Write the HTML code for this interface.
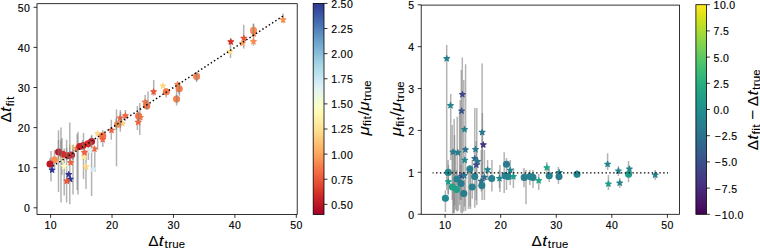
<!DOCTYPE html>
<html><head><meta charset="utf-8"><style>
html,body{margin:0;padding:0;background:#fff;width:760px;height:248px;overflow:hidden;}
body{position:relative;font-family:"Liberation Sans", sans-serif;}
</style></head><body>
<svg width="760" height="248" viewBox="0 0 760 248" style="position:absolute;left:0;top:0">
<defs>
<linearGradient id="gL" x1="0" y1="1" x2="0" y2="0">
<stop offset="0.0000" stop-color="#a50026"/>
<stop offset="0.0323" stop-color="#b50f26"/>
<stop offset="0.0645" stop-color="#c41e27"/>
<stop offset="0.0968" stop-color="#d42d27"/>
<stop offset="0.1290" stop-color="#e0422f"/>
<stop offset="0.1613" stop-color="#e95538"/>
<stop offset="0.1935" stop-color="#f26841"/>
<stop offset="0.2258" stop-color="#f67c4a"/>
<stop offset="0.2581" stop-color="#f99355"/>
<stop offset="0.2903" stop-color="#fca85e"/>
<stop offset="0.3226" stop-color="#fdb96b"/>
<stop offset="0.3548" stop-color="#fec87a"/>
<stop offset="0.3871" stop-color="#feda8a"/>
<stop offset="0.4194" stop-color="#fee699"/>
<stop offset="0.4516" stop-color="#fff0a8"/>
<stop offset="0.4839" stop-color="#fffab7"/>
<stop offset="0.5161" stop-color="#fafdc9"/>
<stop offset="0.5484" stop-color="#f0f9db"/>
<stop offset="0.5806" stop-color="#e6f5ed"/>
<stop offset="0.6129" stop-color="#daf0f6"/>
<stop offset="0.6452" stop-color="#c7e7f1"/>
<stop offset="0.6774" stop-color="#b6dfec"/>
<stop offset="0.7097" stop-color="#a6d5e7"/>
<stop offset="0.7419" stop-color="#94c7df"/>
<stop offset="0.7742" stop-color="#81b7d7"/>
<stop offset="0.8065" stop-color="#70a9cf"/>
<stop offset="0.8387" stop-color="#6297c6"/>
<stop offset="0.8710" stop-color="#5385bd"/>
<stop offset="0.9032" stop-color="#4471b2"/>
<stop offset="0.9355" stop-color="#3e5ea8"/>
<stop offset="0.9677" stop-color="#374a9f"/>
<stop offset="1.0000" stop-color="#313695"/>
</linearGradient>
<linearGradient id="gR" x1="0" y1="1" x2="0" y2="0">
<stop offset="0.0000" stop-color="#440154"/>
<stop offset="0.0323" stop-color="#470d60"/>
<stop offset="0.0645" stop-color="#48186a"/>
<stop offset="0.0968" stop-color="#482374"/>
<stop offset="0.1290" stop-color="#472e7c"/>
<stop offset="0.1613" stop-color="#453882"/>
<stop offset="0.1935" stop-color="#424186"/>
<stop offset="0.2258" stop-color="#3e4a89"/>
<stop offset="0.2581" stop-color="#3a548c"/>
<stop offset="0.2903" stop-color="#365d8d"/>
<stop offset="0.3226" stop-color="#32658e"/>
<stop offset="0.3548" stop-color="#2e6d8e"/>
<stop offset="0.3871" stop-color="#2b758e"/>
<stop offset="0.4194" stop-color="#287d8e"/>
<stop offset="0.4516" stop-color="#25848e"/>
<stop offset="0.4839" stop-color="#228c8d"/>
<stop offset="0.5161" stop-color="#1f948c"/>
<stop offset="0.5484" stop-color="#1e9c89"/>
<stop offset="0.5806" stop-color="#20a386"/>
<stop offset="0.6129" stop-color="#25ab82"/>
<stop offset="0.6452" stop-color="#2eb37c"/>
<stop offset="0.6774" stop-color="#3aba76"/>
<stop offset="0.7097" stop-color="#48c16e"/>
<stop offset="0.7419" stop-color="#58c765"/>
<stop offset="0.7742" stop-color="#6ccd5a"/>
<stop offset="0.8065" stop-color="#7fd34e"/>
<stop offset="0.8387" stop-color="#93d741"/>
<stop offset="0.8710" stop-color="#a8db34"/>
<stop offset="0.9032" stop-color="#c0df25"/>
<stop offset="0.9355" stop-color="#d5e21a"/>
<stop offset="0.9677" stop-color="#eae51a"/>
<stop offset="1.0000" stop-color="#fde725"/>
</linearGradient>
<clipPath id="cL"><rect x="37.00" y="3.70" width="260.20" height="210.70"/></clipPath>
<clipPath id="cR"><rect x="421.20" y="5.10" width="258.40" height="209.20"/></clipPath>
</defs>
<rect width="760" height="248" fill="#fff"/>
<g clip-path="url(#cL)">
<g stroke="#808080" stroke-opacity="0.6" stroke-width="1.5">
<line x1="51.00" y1="151.00" x2="51.00" y2="181.60"/>
<line x1="58.50" y1="130.20" x2="58.50" y2="192.00"/>
<line x1="61.00" y1="127.50" x2="61.00" y2="202.60"/>
<line x1="64.20" y1="148.50" x2="64.20" y2="195.40"/>
<line x1="66.60" y1="139.70" x2="66.60" y2="202.60"/>
<line x1="69.80" y1="122.60" x2="69.80" y2="204.20"/>
<line x1="73.00" y1="144.50" x2="73.00" y2="194.50"/>
<line x1="78.00" y1="131.80" x2="78.00" y2="194.50"/>
<line x1="83.50" y1="133.00" x2="83.50" y2="179.00"/>
<line x1="86.00" y1="150.00" x2="86.00" y2="189.00"/>
<line x1="91.60" y1="134.70" x2="91.60" y2="196.00"/>
<line x1="94.80" y1="150.00" x2="94.80" y2="172.00"/>
<line x1="97.60" y1="138.00" x2="97.60" y2="150.00"/>
<line x1="102.80" y1="130.00" x2="102.80" y2="147.00"/>
<line x1="111.30" y1="119.70" x2="111.30" y2="139.80"/>
<line x1="116.50" y1="109.40" x2="116.50" y2="166.30"/>
<line x1="120.30" y1="110.00" x2="120.30" y2="131.80"/>
<line x1="125.40" y1="110.00" x2="125.40" y2="121.00"/>
<line x1="139.80" y1="103.00" x2="139.80" y2="135.00"/>
<line x1="137.40" y1="106.00" x2="137.40" y2="130.00"/>
<line x1="148.00" y1="91.60" x2="148.00" y2="109.40"/>
<line x1="153.70" y1="79.90" x2="153.70" y2="95.80"/>
<line x1="166.10" y1="88.50" x2="166.10" y2="97.40"/>
<line x1="176.60" y1="86.00" x2="176.60" y2="105.50"/>
<line x1="179.40" y1="82.00" x2="179.40" y2="95.80"/>
<line x1="196.60" y1="72.00" x2="196.60" y2="82.00"/>
<line x1="230.50" y1="38.50" x2="230.50" y2="58.00"/>
<line x1="243.70" y1="24.80" x2="243.70" y2="48.50"/>
<line x1="253.50" y1="23.50" x2="253.50" y2="45.80"/>
<line x1="283.10" y1="13.50" x2="283.10" y2="23.00"/>
<line x1="50.00" y1="158.00" x2="50.00" y2="170.00"/>
<line x1="54.50" y1="150.00" x2="54.50" y2="168.00"/>
<line x1="88.40" y1="140.00" x2="88.40" y2="160.00"/>
<line x1="145.20" y1="95.00" x2="145.20" y2="108.00"/>
<line x1="62.00" y1="138.00" x2="62.00" y2="175.00"/>
<line x1="77.20" y1="134.00" x2="77.20" y2="190.00"/>
</g>
<path d="M283.10,16.80 L282.43,18.87 L280.25,18.87 L282.01,20.15 L281.34,22.23 L283.10,20.95 L284.86,22.23 L284.19,20.15 L285.95,18.87 L283.77,18.87 Z" fill="#f99153" stroke="#f99153" stroke-width="1.1" stroke-linejoin="round"/>
<circle cx="253.50" cy="30.20" r="3" fill="#f99153" stroke="#f99153" stroke-width="1.1"/>
<path d="M253.50,38.50 L252.83,40.57 L250.65,40.57 L252.41,41.85 L251.74,43.93 L253.50,42.65 L255.26,43.93 L254.59,41.85 L256.35,40.57 L254.17,40.57 Z" fill="#f88c51" stroke="#f88c51" stroke-width="1.1" stroke-linejoin="round"/>
<path d="M253.80,30.80 L253.13,32.87 L250.95,32.87 L252.71,34.15 L252.04,36.23 L253.80,34.95 L255.56,36.23 L254.89,34.15 L256.65,32.87 L254.47,32.87 Z" fill="#f7814c" stroke="#f7814c" stroke-width="1.1" stroke-linejoin="round"/>
<path d="M243.80,35.30 L243.13,37.37 L240.95,37.37 L242.71,38.65 L242.04,40.73 L243.80,39.45 L245.56,40.73 L244.89,38.65 L246.65,37.37 L244.47,37.37 Z" fill="#e65036" stroke="#e65036" stroke-width="1.1" stroke-linejoin="round"/>
<path d="M242.50,40.20 L241.83,42.27 L239.65,42.27 L241.41,43.55 L240.74,45.63 L242.50,44.35 L244.26,45.63 L243.59,43.55 L245.35,42.27 L243.17,42.27 Z" fill="#fba05b" stroke="#fba05b" stroke-width="1.1" stroke-linejoin="round"/>
<path d="M230.80,38.80 L230.13,40.87 L227.95,40.87 L229.71,42.15 L229.04,44.23 L230.80,42.95 L232.56,44.23 L231.89,42.15 L233.65,40.87 L231.47,40.87 Z" fill="#d83128" stroke="#d83128" stroke-width="1.1" stroke-linejoin="round"/>
<path d="M230.00,48.60 L229.33,50.67 L227.15,50.67 L228.91,51.95 L228.24,54.03 L230.00,52.75 L231.76,54.03 L231.09,51.95 L232.85,50.67 L230.67,50.67 Z" fill="#fee192" stroke="#fee192" stroke-width="1.1" stroke-linejoin="round"/>
<circle cx="196.60" cy="76.40" r="3" fill="#f7814c" stroke="#f7814c" stroke-width="1.1"/>
<path d="M177.60,81.50 L176.93,83.57 L174.75,83.57 L176.51,84.85 L175.84,86.93 L177.60,85.65 L179.36,86.93 L178.69,84.85 L180.45,83.57 L178.27,83.57 Z" fill="#f7814c" stroke="#f7814c" stroke-width="1.1" stroke-linejoin="round"/>
<circle cx="179.20" cy="88.80" r="3" fill="#f67c4a" stroke="#f67c4a" stroke-width="1.1"/>
<circle cx="176.60" cy="99.00" r="3" fill="#f7814c" stroke="#f7814c" stroke-width="1.1"/>
<path d="M162.90,83.00 L162.23,85.07 L160.05,85.07 L161.81,86.35 L161.14,88.43 L162.90,87.15 L164.66,88.43 L163.99,86.35 L165.75,85.07 L163.57,85.07 Z" fill="#fed687" stroke="#fed687" stroke-width="1.1" stroke-linejoin="round"/>
<circle cx="166.30" cy="91.80" r="3" fill="#f67a49" stroke="#f67a49" stroke-width="1.1"/>
<path d="M153.60,88.80 L152.93,90.87 L150.75,90.87 L152.51,92.15 L151.84,94.23 L153.60,92.95 L155.36,94.23 L154.69,92.15 L156.45,90.87 L154.27,90.87 Z" fill="#ea5739" stroke="#ea5739" stroke-width="1.1" stroke-linejoin="round"/>
<path d="M145.20,99.10 L144.53,101.17 L142.35,101.17 L144.11,102.45 L143.44,104.53 L145.20,103.25 L146.96,104.53 L146.29,102.45 L148.05,101.17 L145.87,101.17 Z" fill="#f57245" stroke="#f57245" stroke-width="1.1" stroke-linejoin="round"/>
<circle cx="146.80" cy="105.80" r="3" fill="#f57245" stroke="#f57245" stroke-width="1.1"/>
<circle cx="138.60" cy="116.00" r="3" fill="#f57245" stroke="#f57245" stroke-width="1.1"/>
<path d="M140.30,114.40 L139.63,116.47 L137.45,116.47 L139.21,117.75 L138.54,119.83 L140.30,118.55 L142.06,119.83 L141.39,117.75 L143.15,116.47 L140.97,116.47 Z" fill="#f57245" stroke="#f57245" stroke-width="1.1" stroke-linejoin="round"/>
<path d="M138.20,119.20 L137.53,121.27 L135.35,121.27 L137.11,122.55 L136.44,124.63 L138.20,123.35 L139.96,124.63 L139.29,122.55 L141.05,121.27 L138.87,121.27 Z" fill="#ef633f" stroke="#ef633f" stroke-width="1.1" stroke-linejoin="round"/>
<path d="M125.40,112.80 L124.73,114.87 L122.55,114.87 L124.31,116.15 L123.64,118.23 L125.40,116.95 L127.16,118.23 L126.49,116.15 L128.25,114.87 L126.07,114.87 Z" fill="#ef633f" stroke="#ef633f" stroke-width="1.1" stroke-linejoin="round"/>
<path d="M120.20,115.10 L119.53,117.17 L117.35,117.17 L119.11,118.45 L118.44,120.53 L120.20,119.25 L121.96,120.53 L121.29,118.45 L123.05,117.17 L120.87,117.17 Z" fill="#ef633f" stroke="#ef633f" stroke-width="1.1" stroke-linejoin="round"/>
<path d="M122.40,120.40 L121.73,122.47 L119.55,122.47 L121.31,123.75 L120.64,125.83 L122.40,124.55 L124.16,125.83 L123.49,123.75 L125.25,122.47 L123.07,122.47 Z" fill="#feca7c" stroke="#feca7c" stroke-width="1.1" stroke-linejoin="round"/>
<circle cx="117.60" cy="124.30" r="3" fill="#f99153" stroke="#f99153" stroke-width="1.1"/>
<path d="M111.50,127.20 L110.83,129.27 L108.65,129.27 L110.41,130.55 L109.74,132.63 L111.50,131.35 L113.26,132.63 L112.59,130.55 L114.35,129.27 L112.17,129.27 Z" fill="#ef633f" stroke="#ef633f" stroke-width="1.1" stroke-linejoin="round"/>
<path d="M97.70,130.70 L97.03,132.77 L94.85,132.77 L96.61,134.05 L95.94,136.13 L97.70,134.85 L99.46,136.13 L98.79,134.05 L100.55,132.77 L98.37,132.77 Z" fill="#fed687" stroke="#fed687" stroke-width="1.1" stroke-linejoin="round"/>
<circle cx="102.70" cy="135.90" r="3" fill="#f57245" stroke="#f57245" stroke-width="1.1"/>
<path d="M102.70,136.50 L102.03,138.57 L99.85,138.57 L101.61,139.85 L100.94,141.93 L102.70,140.65 L104.46,141.93 L103.79,139.85 L105.55,138.57 L103.37,138.57 Z" fill="#ef633f" stroke="#ef633f" stroke-width="1.1" stroke-linejoin="round"/>
<path d="M94.40,145.90 L93.73,147.97 L91.55,147.97 L93.31,149.25 L92.64,151.33 L94.40,150.05 L96.16,151.33 L95.49,149.25 L97.25,147.97 L95.07,147.97 Z" fill="#ef633f" stroke="#ef633f" stroke-width="1.1" stroke-linejoin="round"/>
<path d="M83.80,153.90 L83.13,155.97 L80.95,155.97 L82.71,157.25 L82.04,159.33 L83.80,158.05 L85.56,159.33 L84.89,157.25 L86.65,155.97 L84.47,155.97 Z" fill="#fee99d" stroke="#fee99d" stroke-width="1.1" stroke-linejoin="round"/>
<path d="M90.00,146.80 L89.33,148.87 L87.15,148.87 L88.91,150.15 L88.24,152.23 L90.00,150.95 L91.76,152.23 L91.09,150.15 L92.85,148.87 L90.67,148.87 Z" fill="#e1f3f6" stroke="#e1f3f6" stroke-width="1.1" stroke-linejoin="round"/>
<path d="M84.40,149.60 L83.73,151.67 L81.55,151.67 L83.31,152.95 L82.64,155.03 L84.40,153.75 L86.16,155.03 L85.49,152.95 L87.25,151.67 L85.07,151.67 Z" fill="#ef633f" stroke="#ef633f" stroke-width="1.1" stroke-linejoin="round"/>
<path d="M76.30,145.50 L75.63,147.57 L73.45,147.57 L75.21,148.85 L74.54,150.93 L76.30,149.65 L78.06,150.93 L77.39,148.85 L79.15,147.57 L76.97,147.57 Z" fill="#f57245" stroke="#f57245" stroke-width="1.1" stroke-linejoin="round"/>
<path d="M72.30,144.00 L71.63,146.07 L69.45,146.07 L71.21,147.35 L70.54,149.43 L72.30,148.15 L74.06,149.43 L73.39,147.35 L75.15,146.07 L72.97,146.07 Z" fill="#fff7b3" stroke="#fff7b3" stroke-width="1.1" stroke-linejoin="round"/>
<circle cx="91.60" cy="141.60" r="3" fill="#c01a27" stroke="#c01a27" stroke-width="1.1"/>
<circle cx="88.00" cy="143.70" r="3" fill="#d42d27" stroke="#d42d27" stroke-width="1.1"/>
<circle cx="83.20" cy="145.50" r="3" fill="#ce2827" stroke="#ce2827" stroke-width="1.1"/>
<circle cx="79.80" cy="146.50" r="3" fill="#c82227" stroke="#c82227" stroke-width="1.1"/>
<circle cx="71.50" cy="155.00" r="3" fill="#c82227" stroke="#c82227" stroke-width="1.1"/>
<circle cx="68.20" cy="155.80" r="3" fill="#c82227" stroke="#c82227" stroke-width="1.1"/>
<circle cx="62.80" cy="154.20" r="3" fill="#d42d27" stroke="#d42d27" stroke-width="1.1"/>
<circle cx="58.60" cy="152.00" r="3" fill="#bd1726" stroke="#bd1726" stroke-width="1.1"/>
<path d="M70.60,159.60 L69.93,161.67 L67.75,161.67 L69.51,162.95 L68.84,165.03 L70.60,163.75 L72.36,165.03 L71.69,162.95 L73.45,161.67 L71.27,161.67 Z" fill="#ef633f" stroke="#ef633f" stroke-width="1.1" stroke-linejoin="round"/>
<circle cx="54.50" cy="159.80" r="3" fill="#f99153" stroke="#f99153" stroke-width="1.1"/>
<circle cx="50.00" cy="164.00" r="3" fill="#bd1726" stroke="#bd1726" stroke-width="1.1"/>
<path d="M61.00,156.80 L60.33,158.87 L58.15,158.87 L59.91,160.15 L59.24,162.23 L61.00,160.95 L62.76,162.23 L62.09,160.15 L63.85,158.87 L61.67,158.87 Z" fill="#fff7b3" stroke="#fff7b3" stroke-width="1.1" stroke-linejoin="round"/>
<path d="M64.20,163.50 L63.53,165.57 L61.35,165.57 L63.11,166.85 L62.44,168.93 L64.20,167.65 L65.96,168.93 L65.29,166.85 L67.05,165.57 L64.87,165.57 Z" fill="#fffebe" stroke="#fffebe" stroke-width="1.1" stroke-linejoin="round"/>
<path d="M86.00,163.80 L85.33,165.87 L83.15,165.87 L84.91,167.15 L84.24,169.23 L86.00,167.95 L87.76,169.23 L87.09,167.15 L88.85,165.87 L86.67,165.87 Z" fill="#fed687" stroke="#fed687" stroke-width="1.1" stroke-linejoin="round"/>
<path d="M93.20,165.90 L92.53,167.97 L90.35,167.97 L92.11,169.25 L91.44,171.33 L93.20,170.05 L94.96,171.33 L94.29,169.25 L96.05,167.97 L93.87,167.97 Z" fill="#d6eef5" stroke="#d6eef5" stroke-width="1.1" stroke-linejoin="round"/>
<path d="M52.10,167.00 L51.43,169.07 L49.25,169.07 L51.01,170.35 L50.34,172.43 L52.10,171.15 L53.86,172.43 L53.19,170.35 L54.95,169.07 L52.77,169.07 Z" fill="#313695" stroke="#313695" stroke-width="1.1" stroke-linejoin="round"/>
<path d="M68.70,171.50 L68.03,173.57 L65.85,173.57 L67.61,174.85 L66.94,176.93 L68.70,175.65 L70.46,176.93 L69.79,174.85 L71.55,173.57 L69.37,173.57 Z" fill="#313695" stroke="#313695" stroke-width="1.1" stroke-linejoin="round"/>
<path d="M70.20,176.20 L69.53,178.27 L67.35,178.27 L69.11,179.55 L68.44,181.63 L70.20,180.35 L71.96,181.63 L71.29,179.55 L73.05,178.27 L70.87,178.27 Z" fill="#313695" stroke="#313695" stroke-width="1.1" stroke-linejoin="round"/>
<path d="M66.80,178.10 L66.13,180.17 L63.95,180.17 L65.71,181.45 L65.04,183.53 L66.80,182.25 L68.56,183.53 L67.89,181.45 L69.65,180.17 L67.47,180.17 Z" fill="#ea5739" stroke="#ea5739" stroke-width="1.1" stroke-linejoin="round"/>
<g stroke="#808080" stroke-opacity="0.6" stroke-width="1.5">
<line x1="196.60" y1="72.00" x2="196.60" y2="81.00"/>
<line x1="179.20" y1="84.00" x2="179.20" y2="94.00"/>
<line x1="253.50" y1="24.00" x2="253.50" y2="35.00"/>
<line x1="176.60" y1="95.00" x2="176.60" y2="103.00"/>
<line x1="91.60" y1="136.00" x2="91.60" y2="147.00"/>
<line x1="82.60" y1="140.00" x2="82.60" y2="150.00"/>
<line x1="138.60" y1="112.00" x2="138.60" y2="121.00"/>
<line x1="146.80" y1="100.00" x2="146.80" y2="110.00"/>
<line x1="58.50" y1="140.00" x2="58.50" y2="160.00"/>
<line x1="61.00" y1="140.00" x2="61.00" y2="162.00"/>
<line x1="69.80" y1="145.00" x2="69.80" y2="162.00"/>
<line x1="73.00" y1="145.00" x2="73.00" y2="160.00"/>
<line x1="66.60" y1="148.00" x2="66.60" y2="160.00"/>
<line x1="116.30" y1="118.00" x2="116.30" y2="130.00"/>
<line x1="120.50" y1="112.00" x2="120.50" y2="128.00"/>
</g>
<line x1="50.91" y1="167.50" x2="283.20" y2="15.85" stroke="#000" stroke-width="1.45" stroke-dasharray="1.450 2.400" stroke-dashoffset="1.578"/>
</g>
<g clip-path="url(#cR)">
<g stroke="#808080" stroke-opacity="0.6" stroke-width="1.5">
<line x1="446.70" y1="45.00" x2="446.70" y2="190.00"/>
<line x1="450.70" y1="94.00" x2="450.70" y2="160.00"/>
<line x1="454.20" y1="119.00" x2="454.20" y2="213.00"/>
<line x1="457.20" y1="116.70" x2="457.20" y2="211.40"/>
<line x1="460.20" y1="100.00" x2="460.20" y2="200.00"/>
<line x1="462.30" y1="57.40" x2="462.30" y2="213.20"/>
<line x1="463.80" y1="80.00" x2="463.80" y2="211.40"/>
<line x1="465.60" y1="64.20" x2="465.60" y2="210.80"/>
<line x1="474.80" y1="108.00" x2="474.80" y2="207.80"/>
<line x1="476.80" y1="108.00" x2="476.80" y2="205.00"/>
<line x1="482.10" y1="63.50" x2="482.10" y2="200.00"/>
<line x1="469.90" y1="165.00" x2="469.90" y2="206.60"/>
<line x1="472.30" y1="160.00" x2="472.30" y2="198.70"/>
<line x1="445.40" y1="190.20" x2="445.40" y2="212.00"/>
<line x1="448.10" y1="160.00" x2="448.10" y2="194.50"/>
<line x1="452.90" y1="150.00" x2="452.90" y2="213.80"/>
<line x1="455.30" y1="150.00" x2="455.30" y2="209.60"/>
<line x1="481.30" y1="150.00" x2="481.30" y2="191.40"/>
<line x1="484.40" y1="150.00" x2="484.40" y2="199.90"/>
<line x1="491.90" y1="160.00" x2="491.90" y2="191.40"/>
<line x1="499.90" y1="165.00" x2="499.90" y2="192.00"/>
<line x1="504.20" y1="152.30" x2="504.20" y2="193.00"/>
<line x1="506.50" y1="158.00" x2="506.50" y2="190.00"/>
<line x1="524.00" y1="168.00" x2="524.00" y2="187.30"/>
<line x1="526.00" y1="170.00" x2="526.00" y2="204.20"/>
<line x1="510.20" y1="160.00" x2="510.20" y2="185.00"/>
<line x1="513.40" y1="168.00" x2="513.40" y2="188.00"/>
<line x1="529.90" y1="170.00" x2="529.90" y2="185.00"/>
<line x1="533.00" y1="170.00" x2="533.00" y2="188.00"/>
<line x1="538.70" y1="174.00" x2="538.70" y2="190.00"/>
<line x1="546.80" y1="162.00" x2="546.80" y2="176.00"/>
<line x1="549.20" y1="168.00" x2="549.20" y2="182.00"/>
<line x1="558.40" y1="167.00" x2="558.40" y2="184.00"/>
<line x1="577.00" y1="170.00" x2="577.00" y2="178.00"/>
<line x1="607.60" y1="153.20" x2="607.60" y2="170.00"/>
<line x1="608.40" y1="175.00" x2="608.40" y2="190.00"/>
<line x1="618.40" y1="166.00" x2="618.40" y2="176.00"/>
<line x1="619.70" y1="178.00" x2="619.70" y2="188.00"/>
<line x1="628.50" y1="161.00" x2="628.50" y2="182.30"/>
<line x1="655.20" y1="170.00" x2="655.20" y2="180.00"/>
<line x1="487.60" y1="160.00" x2="487.60" y2="180.00"/>
<line x1="499.50" y1="170.00" x2="499.50" y2="188.00"/>
<line x1="448.40" y1="165.00" x2="448.40" y2="194.40"/>
<line x1="453.50" y1="170.00" x2="453.50" y2="212.80"/>
<line x1="456.50" y1="170.00" x2="456.50" y2="210.50"/>
<line x1="458.50" y1="175.00" x2="458.50" y2="210.50"/>
<line x1="461.00" y1="165.00" x2="461.00" y2="212.80"/>
<line x1="464.50" y1="180.00" x2="464.50" y2="206.60"/>
<line x1="468.50" y1="170.00" x2="468.50" y2="209.00"/>
<line x1="470.50" y1="170.00" x2="470.50" y2="209.00"/>
<line x1="454.50" y1="135.00" x2="454.50" y2="205.00"/>
<line x1="482.40" y1="113.00" x2="482.40" y2="190.00"/>
<line x1="476.20" y1="141.00" x2="476.20" y2="200.00"/>
<line x1="461.30" y1="70.00" x2="461.30" y2="200.00"/>
<line x1="452.20" y1="125.00" x2="452.20" y2="200.00"/>
<line x1="459.60" y1="112.00" x2="459.60" y2="205.00"/>
</g>
<path d="M446.70,55.60 L446.03,57.67 L443.85,57.67 L445.61,58.95 L444.94,61.03 L446.70,59.75 L448.46,61.03 L447.79,58.95 L449.55,57.67 L447.37,57.67 Z" fill="#26828e" stroke="#26828e" stroke-width="1.1" stroke-linejoin="round"/>
<path d="M450.50,102.40 L449.83,104.47 L447.65,104.47 L449.41,105.75 L448.74,107.83 L450.50,106.55 L452.26,107.83 L451.59,105.75 L453.35,104.47 L451.17,104.47 Z" fill="#26828e" stroke="#26828e" stroke-width="1.1" stroke-linejoin="round"/>
<path d="M462.40,91.50 L461.73,93.57 L459.55,93.57 L461.31,94.85 L460.64,96.93 L462.40,95.65 L464.16,96.93 L463.49,94.85 L465.25,93.57 L463.07,93.57 Z" fill="#414487" stroke="#414487" stroke-width="1.1" stroke-linejoin="round"/>
<path d="M461.60,108.00 L460.93,110.07 L458.75,110.07 L460.51,111.35 L459.84,113.43 L461.60,112.15 L463.36,113.43 L462.69,111.35 L464.45,110.07 L462.27,110.07 Z" fill="#3a548c" stroke="#3a548c" stroke-width="1.1" stroke-linejoin="round"/>
<path d="M464.50,126.40 L463.83,128.47 L461.65,128.47 L463.41,129.75 L462.74,131.83 L464.50,130.55 L466.26,131.83 L465.59,129.75 L467.35,128.47 L465.17,128.47 Z" fill="#26828e" stroke="#26828e" stroke-width="1.1" stroke-linejoin="round"/>
<path d="M482.20,129.30 L481.53,131.37 L479.35,131.37 L481.11,132.65 L480.44,134.73 L482.20,133.45 L483.96,134.73 L483.29,132.65 L485.05,131.37 L482.87,131.37 Z" fill="#2a788e" stroke="#2a788e" stroke-width="1.1" stroke-linejoin="round"/>
<path d="M483.30,141.80 L482.63,143.87 L480.45,143.87 L482.21,145.15 L481.54,147.23 L483.30,145.95 L485.06,147.23 L484.39,145.15 L486.15,143.87 L483.97,143.87 Z" fill="#46337f" stroke="#46337f" stroke-width="1.1" stroke-linejoin="round"/>
<path d="M465.40,146.70 L464.73,148.77 L462.55,148.77 L464.31,150.05 L463.64,152.13 L465.40,150.85 L467.16,152.13 L466.49,150.05 L468.25,148.77 L466.07,148.77 Z" fill="#2c728e" stroke="#2c728e" stroke-width="1.1" stroke-linejoin="round"/>
<path d="M475.50,146.40 L474.83,148.47 L472.65,148.47 L474.41,149.75 L473.74,151.83 L475.50,150.55 L477.26,151.83 L476.59,149.75 L478.35,148.47 L476.17,148.47 Z" fill="#287c8e" stroke="#287c8e" stroke-width="1.1" stroke-linejoin="round"/>
<path d="M453.00,149.00 L452.33,151.07 L450.15,151.07 L451.91,152.35 L451.24,154.43 L453.00,153.15 L454.76,154.43 L454.09,152.35 L455.85,151.07 L453.67,151.07 Z" fill="#287c8e" stroke="#287c8e" stroke-width="1.1" stroke-linejoin="round"/>
<path d="M457.80,149.60 L457.13,151.67 L454.95,151.67 L456.71,152.95 L456.04,155.03 L457.80,153.75 L459.56,155.03 L458.89,152.95 L460.65,151.67 L458.47,151.67 Z" fill="#287c8e" stroke="#287c8e" stroke-width="1.1" stroke-linejoin="round"/>
<path d="M464.70,157.20 L464.03,159.27 L461.85,159.27 L463.61,160.55 L462.94,162.63 L464.70,161.35 L466.46,162.63 L465.79,160.55 L467.55,159.27 L465.37,159.27 Z" fill="#23888e" stroke="#23888e" stroke-width="1.1" stroke-linejoin="round"/>
<path d="M474.70,155.50 L474.03,157.57 L471.85,157.57 L473.61,158.85 L472.94,160.93 L474.70,159.65 L476.46,160.93 L475.79,158.85 L477.55,157.57 L475.37,157.57 Z" fill="#2f6c8e" stroke="#2f6c8e" stroke-width="1.1" stroke-linejoin="round"/>
<path d="M477.60,158.50 L476.93,160.57 L474.75,160.57 L476.51,161.85 L475.84,163.93 L477.60,162.65 L479.36,163.93 L478.69,161.85 L480.45,160.57 L478.27,160.57 Z" fill="#2a788e" stroke="#2a788e" stroke-width="1.1" stroke-linejoin="round"/>
<path d="M476.30,162.00 L475.63,164.07 L473.45,164.07 L475.21,165.35 L474.54,167.43 L476.30,166.15 L478.06,167.43 L477.39,165.35 L479.15,164.07 L476.97,164.07 Z" fill="#3e4c8a" stroke="#3e4c8a" stroke-width="1.1" stroke-linejoin="round"/>
<circle cx="469.90" cy="169.00" r="3" fill="#26828e" stroke="#26828e" stroke-width="1.1"/>
<circle cx="448.20" cy="172.40" r="3" fill="#23888e" stroke="#23888e" stroke-width="1.1"/>
<path d="M487.60,166.80 L486.93,168.87 L484.75,168.87 L486.51,170.15 L485.84,172.23 L487.60,170.95 L489.36,172.23 L488.69,170.15 L490.45,168.87 L488.27,168.87 Z" fill="#23888e" stroke="#23888e" stroke-width="1.1" stroke-linejoin="round"/>
<path d="M461.80,173.00 L461.13,175.07 L458.95,175.07 L460.71,176.35 L460.04,178.43 L461.80,177.15 L463.56,178.43 L462.89,176.35 L464.65,175.07 L462.47,175.07 Z" fill="#414487" stroke="#414487" stroke-width="1.1" stroke-linejoin="round"/>
<path d="M464.20,172.60 L463.53,174.67 L461.35,174.67 L463.11,175.95 L462.44,178.03 L464.20,176.75 L465.96,178.03 L465.29,175.95 L467.05,174.67 L464.87,174.67 Z" fill="#2a788e" stroke="#2a788e" stroke-width="1.1" stroke-linejoin="round"/>
<circle cx="457.00" cy="179.00" r="3" fill="#26828e" stroke="#26828e" stroke-width="1.1"/>
<path d="M448.30,178.80 L447.63,180.87 L445.45,180.87 L447.21,182.15 L446.54,184.23 L448.30,182.95 L450.06,184.23 L449.39,182.15 L451.15,180.87 L448.97,180.87 Z" fill="#1e9c89" stroke="#1e9c89" stroke-width="1.1" stroke-linejoin="round"/>
<circle cx="452.50" cy="187.00" r="3" fill="#1fa188" stroke="#1fa188" stroke-width="1.1"/>
<circle cx="456.50" cy="189.50" r="3" fill="#1fa188" stroke="#1fa188" stroke-width="1.1"/>
<circle cx="461.00" cy="183.50" r="3" fill="#287c8e" stroke="#287c8e" stroke-width="1.1"/>
<circle cx="463.80" cy="193.50" r="3" fill="#287c8e" stroke="#287c8e" stroke-width="1.1"/>
<circle cx="445.40" cy="198.20" r="3" fill="#23888e" stroke="#23888e" stroke-width="1.1"/>
<circle cx="472.20" cy="187.00" r="3" fill="#26828e" stroke="#26828e" stroke-width="1.1"/>
<circle cx="474.70" cy="176.50" r="3" fill="#26828e" stroke="#26828e" stroke-width="1.1"/>
<path d="M481.20,178.30 L480.53,180.37 L478.35,180.37 L480.11,181.65 L479.44,183.73 L481.20,182.45 L482.96,183.73 L482.29,181.65 L484.05,180.37 L481.87,180.37 Z" fill="#2f6c8e" stroke="#2f6c8e" stroke-width="1.1" stroke-linejoin="round"/>
<circle cx="481.80" cy="185.50" r="3" fill="#287c8e" stroke="#287c8e" stroke-width="1.1"/>
<path d="M484.40,174.30 L483.73,176.37 L481.55,176.37 L483.31,177.65 L482.64,179.73 L484.40,178.45 L486.16,179.73 L485.49,177.65 L487.25,176.37 L485.07,176.37 Z" fill="#2f6c8e" stroke="#2f6c8e" stroke-width="1.1" stroke-linejoin="round"/>
<circle cx="491.70" cy="178.50" r="3" fill="#26828e" stroke="#26828e" stroke-width="1.1"/>
<path d="M499.50,175.50 L498.83,177.57 L496.65,177.57 L498.41,178.85 L497.74,180.93 L499.50,179.65 L501.26,180.93 L500.59,178.85 L502.35,177.57 L500.17,177.57 Z" fill="#23888e" stroke="#23888e" stroke-width="1.1" stroke-linejoin="round"/>
<circle cx="506.50" cy="164.20" r="3" fill="#287c8e" stroke="#287c8e" stroke-width="1.1"/>
<path d="M510.20,167.20 L509.53,169.27 L507.35,169.27 L509.11,170.55 L508.44,172.63 L510.20,171.35 L511.96,172.63 L511.29,170.55 L513.05,169.27 L510.87,169.27 Z" fill="#23888e" stroke="#23888e" stroke-width="1.1" stroke-linejoin="round"/>
<circle cx="505.00" cy="175.80" r="3" fill="#26828e" stroke="#26828e" stroke-width="1.1"/>
<circle cx="508.00" cy="176.60" r="3" fill="#26828e" stroke="#26828e" stroke-width="1.1"/>
<path d="M513.40,173.60 L512.73,175.67 L510.55,175.67 L512.31,176.95 L511.64,179.03 L513.40,177.75 L515.16,179.03 L514.49,176.95 L516.25,175.67 L514.07,175.67 Z" fill="#1e9c89" stroke="#1e9c89" stroke-width="1.1" stroke-linejoin="round"/>
<circle cx="524.20" cy="177.40" r="3" fill="#277e8e" stroke="#277e8e" stroke-width="1.1"/>
<circle cx="529.90" cy="176.60" r="3" fill="#26828e" stroke="#26828e" stroke-width="1.1"/>
<circle cx="533.00" cy="177.40" r="3" fill="#26828e" stroke="#26828e" stroke-width="1.1"/>
<path d="M538.70,177.60 L538.03,179.67 L535.85,179.67 L537.61,180.95 L536.94,183.03 L538.70,181.75 L540.46,183.03 L539.79,180.95 L541.55,179.67 L539.37,179.67 Z" fill="#22a884" stroke="#22a884" stroke-width="1.1" stroke-linejoin="round"/>
<path d="M546.80,164.70 L546.13,166.77 L543.95,166.77 L545.71,168.05 L545.04,170.13 L546.80,168.85 L548.56,170.13 L547.89,168.05 L549.65,166.77 L547.47,166.77 Z" fill="#22a884" stroke="#22a884" stroke-width="1.1" stroke-linejoin="round"/>
<circle cx="549.20" cy="175.80" r="3" fill="#26828e" stroke="#26828e" stroke-width="1.1"/>
<circle cx="559.00" cy="176.60" r="3" fill="#2a788e" stroke="#2a788e" stroke-width="1.1"/>
<path d="M559.20,169.60 L558.53,171.67 L556.35,171.67 L558.11,172.95 L557.44,175.03 L559.20,173.75 L560.96,175.03 L560.29,172.95 L562.05,171.67 L559.87,171.67 Z" fill="#26828e" stroke="#26828e" stroke-width="1.1" stroke-linejoin="round"/>
<circle cx="577.00" cy="174.30" r="3" fill="#26828e" stroke="#26828e" stroke-width="1.1"/>
<path d="M607.60,161.20 L606.93,163.27 L604.75,163.27 L606.51,164.55 L605.84,166.63 L607.60,165.35 L609.36,166.63 L608.69,164.55 L610.45,163.27 L608.27,163.27 Z" fill="#26828e" stroke="#26828e" stroke-width="1.1" stroke-linejoin="round"/>
<path d="M608.40,180.90 L607.73,182.97 L605.55,182.97 L607.31,184.25 L606.64,186.33 L608.40,185.05 L610.16,186.33 L609.49,184.25 L611.25,182.97 L609.07,182.97 Z" fill="#1e9c89" stroke="#1e9c89" stroke-width="1.1" stroke-linejoin="round"/>
<path d="M618.40,168.00 L617.73,170.07 L615.55,170.07 L617.31,171.35 L616.64,173.43 L618.40,172.15 L620.16,173.43 L619.49,171.35 L621.25,170.07 L619.07,170.07 Z" fill="#26828e" stroke="#26828e" stroke-width="1.1" stroke-linejoin="round"/>
<path d="M619.70,180.00 L619.03,182.07 L616.85,182.07 L618.61,183.35 L617.94,185.43 L619.70,184.15 L621.46,185.43 L620.79,183.35 L622.55,182.07 L620.37,182.07 Z" fill="#26828e" stroke="#26828e" stroke-width="1.1" stroke-linejoin="round"/>
<path d="M629.40,166.00 L628.73,168.07 L626.55,168.07 L628.31,169.35 L627.64,171.43 L629.40,170.15 L631.16,171.43 L630.49,169.35 L632.25,168.07 L630.07,168.07 Z" fill="#26828e" stroke="#26828e" stroke-width="1.1" stroke-linejoin="round"/>
<circle cx="628.60" cy="174.20" r="3" fill="#1e9c89" stroke="#1e9c89" stroke-width="1.1"/>
<path d="M655.20,172.00 L654.53,174.07 L652.35,174.07 L654.11,175.35 L653.44,177.43 L655.20,176.15 L656.96,177.43 L656.29,175.35 L658.05,174.07 L655.87,174.07 Z" fill="#26828e" stroke="#26828e" stroke-width="1.1" stroke-linejoin="round"/>
<line x1="432.60" y1="172.85" x2="668.00" y2="172.85" stroke="#000" stroke-width="1.45" stroke-dasharray="1.450 2.400" stroke-dashoffset="0.415"/>
</g>
<rect x="313.20" y="3.40" width="10.80" height="211.00" fill="url(#gL)" stroke="#000" stroke-width="0.8"/>
<rect x="695.90" y="4.70" width="10.50" height="209.60" fill="url(#gR)" stroke="#000" stroke-width="0.8"/>
<rect x="37.00" y="3.70" width="260.20" height="210.70" fill="none" stroke="#000" stroke-width="0.8"/>
<rect x="421.20" y="5.10" width="258.40" height="209.20" fill="none" stroke="#000" stroke-width="0.8"/>
<g stroke="#000" stroke-width="0.8">
<line x1="50.60" y1="214.40" x2="50.60" y2="217.90"/>
<line x1="445.10" y1="214.30" x2="445.10" y2="217.80"/>
<line x1="112.03" y1="214.40" x2="112.03" y2="217.90"/>
<line x1="500.68" y1="214.30" x2="500.68" y2="217.80"/>
<line x1="173.45" y1="214.40" x2="173.45" y2="217.90"/>
<line x1="556.25" y1="214.30" x2="556.25" y2="217.80"/>
<line x1="234.88" y1="214.40" x2="234.88" y2="217.90"/>
<line x1="611.83" y1="214.30" x2="611.83" y2="217.80"/>
<line x1="296.30" y1="214.40" x2="296.30" y2="217.90"/>
<line x1="667.40" y1="214.30" x2="667.40" y2="217.80"/>
<line x1="33.50" y1="207.80" x2="37.00" y2="207.80"/>
<line x1="33.50" y1="167.70" x2="37.00" y2="167.70"/>
<line x1="33.50" y1="127.60" x2="37.00" y2="127.60"/>
<line x1="33.50" y1="87.50" x2="37.00" y2="87.50"/>
<line x1="33.50" y1="47.40" x2="37.00" y2="47.40"/>
<line x1="33.50" y1="7.30" x2="37.00" y2="7.30"/>
<line x1="417.70" y1="214.20" x2="421.20" y2="214.20"/>
<line x1="417.70" y1="172.32" x2="421.20" y2="172.32"/>
<line x1="417.70" y1="130.44" x2="421.20" y2="130.44"/>
<line x1="417.70" y1="88.56" x2="421.20" y2="88.56"/>
<line x1="417.70" y1="46.68" x2="421.20" y2="46.68"/>
<line x1="417.70" y1="4.80" x2="421.20" y2="4.80"/>
<line x1="324.00" y1="204.35" x2="327.50" y2="204.35"/>
<line x1="706.40" y1="214.30" x2="709.90" y2="214.30"/>
<line x1="324.00" y1="179.23" x2="327.50" y2="179.23"/>
<line x1="706.40" y1="188.10" x2="709.90" y2="188.10"/>
<line x1="324.00" y1="154.11" x2="327.50" y2="154.11"/>
<line x1="706.40" y1="161.90" x2="709.90" y2="161.90"/>
<line x1="324.00" y1="129.00" x2="327.50" y2="129.00"/>
<line x1="706.40" y1="135.70" x2="709.90" y2="135.70"/>
<line x1="324.00" y1="103.88" x2="327.50" y2="103.88"/>
<line x1="706.40" y1="109.50" x2="709.90" y2="109.50"/>
<line x1="324.00" y1="78.76" x2="327.50" y2="78.76"/>
<line x1="706.40" y1="83.30" x2="709.90" y2="83.30"/>
<line x1="324.00" y1="53.64" x2="327.50" y2="53.64"/>
<line x1="706.40" y1="57.10" x2="709.90" y2="57.10"/>
<line x1="324.00" y1="28.52" x2="327.50" y2="28.52"/>
<line x1="706.40" y1="30.90" x2="709.90" y2="30.90"/>
<line x1="324.00" y1="3.40" x2="327.50" y2="3.40"/>
<line x1="706.40" y1="4.70" x2="709.90" y2="4.70"/>
</g>
<g font-family='"Liberation Sans", sans-serif' fill="#000" stroke="#000" stroke-width="0.15">
<text x="0.00" y="228.69" font-size="10.30" text-anchor="middle" transform="translate(47.47,0) scale(1.020,1) translate(0.00,0)">1</text>
<text x="0.00" y="228.69" font-size="10.30" text-anchor="middle" transform="translate(53.73,0) scale(1.020,1) translate(0.00,0)">0</text>
<text x="0.00" y="228.59" font-size="10.30" text-anchor="middle" transform="translate(441.97,0) scale(1.020,1) translate(0.00,0)">1</text>
<text x="0.00" y="228.59" font-size="10.30" text-anchor="middle" transform="translate(448.23,0) scale(1.020,1) translate(0.00,0)">0</text>
<text x="0.00" y="228.69" font-size="10.30" text-anchor="middle" transform="translate(108.89,0) scale(1.020,1) translate(0.00,0)">2</text>
<text x="0.00" y="228.69" font-size="10.30" text-anchor="middle" transform="translate(115.16,0) scale(1.020,1) translate(0.00,0)">0</text>
<text x="0.00" y="228.59" font-size="10.30" text-anchor="middle" transform="translate(497.54,0) scale(1.020,1) translate(0.00,0)">2</text>
<text x="0.00" y="228.59" font-size="10.30" text-anchor="middle" transform="translate(503.81,0) scale(1.020,1) translate(0.00,0)">0</text>
<text x="0.00" y="228.69" font-size="10.30" text-anchor="middle" transform="translate(170.32,0) scale(1.020,1) translate(0.00,0)">3</text>
<text x="0.00" y="228.69" font-size="10.30" text-anchor="middle" transform="translate(176.58,0) scale(1.020,1) translate(0.00,0)">0</text>
<text x="0.00" y="228.59" font-size="10.30" text-anchor="middle" transform="translate(553.12,0) scale(1.020,1) translate(0.00,0)">3</text>
<text x="0.00" y="228.59" font-size="10.30" text-anchor="middle" transform="translate(559.38,0) scale(1.020,1) translate(0.00,0)">0</text>
<text x="0.00" y="228.69" font-size="10.30" text-anchor="middle" transform="translate(231.74,0) scale(1.020,1) translate(0.00,0)">4</text>
<text x="0.00" y="228.69" font-size="10.30" text-anchor="middle" transform="translate(238.01,0) scale(1.020,1) translate(0.00,0)">0</text>
<text x="0.00" y="228.59" font-size="10.30" text-anchor="middle" transform="translate(608.69,0) scale(1.020,1) translate(0.00,0)">4</text>
<text x="0.00" y="228.59" font-size="10.30" text-anchor="middle" transform="translate(614.96,0) scale(1.020,1) translate(0.00,0)">0</text>
<text x="0.00" y="228.69" font-size="10.30" text-anchor="middle" transform="translate(293.17,0) scale(1.020,1) translate(0.00,0)">5</text>
<text x="0.00" y="228.69" font-size="10.30" text-anchor="middle" transform="translate(299.43,0) scale(1.020,1) translate(0.00,0)">0</text>
<text x="0.00" y="228.59" font-size="10.30" text-anchor="middle" transform="translate(664.27,0) scale(1.020,1) translate(0.00,0)">5</text>
<text x="0.00" y="228.59" font-size="10.30" text-anchor="middle" transform="translate(670.53,0) scale(1.020,1) translate(0.00,0)">0</text>
<text x="0.00" y="212.25" font-size="10.30" text-anchor="middle" transform="translate(26.87,0) scale(1.020,1) translate(0.00,0)">0</text>
<text x="0.00" y="172.15" font-size="10.30" text-anchor="middle" transform="translate(20.60,0) scale(1.020,1) translate(0.00,0)">1</text>
<text x="0.00" y="172.15" font-size="10.30" text-anchor="middle" transform="translate(26.87,0) scale(1.020,1) translate(0.00,0)">0</text>
<text x="0.00" y="132.05" font-size="10.30" text-anchor="middle" transform="translate(20.60,0) scale(1.020,1) translate(0.00,0)">2</text>
<text x="0.00" y="132.05" font-size="10.30" text-anchor="middle" transform="translate(26.87,0) scale(1.020,1) translate(0.00,0)">0</text>
<text x="0.00" y="91.95" font-size="10.30" text-anchor="middle" transform="translate(20.60,0) scale(1.020,1) translate(0.00,0)">3</text>
<text x="0.00" y="91.95" font-size="10.30" text-anchor="middle" transform="translate(26.87,0) scale(1.020,1) translate(0.00,0)">0</text>
<text x="0.00" y="51.85" font-size="10.30" text-anchor="middle" transform="translate(20.60,0) scale(1.020,1) translate(0.00,0)">4</text>
<text x="0.00" y="51.85" font-size="10.30" text-anchor="middle" transform="translate(26.87,0) scale(1.020,1) translate(0.00,0)">0</text>
<text x="0.00" y="11.75" font-size="10.30" text-anchor="middle" transform="translate(20.60,0) scale(1.020,1) translate(0.00,0)">5</text>
<text x="0.00" y="11.75" font-size="10.30" text-anchor="middle" transform="translate(26.87,0) scale(1.020,1) translate(0.00,0)">0</text>
<text x="0.00" y="218.64" font-size="10.30" text-anchor="middle" transform="translate(411.07,0) scale(1.020,1) translate(0.00,0)">0</text>
<text x="0.00" y="176.76" font-size="10.30" text-anchor="middle" transform="translate(411.07,0) scale(1.020,1) translate(0.00,0)">1</text>
<text x="0.00" y="134.88" font-size="10.30" text-anchor="middle" transform="translate(411.07,0) scale(1.020,1) translate(0.00,0)">2</text>
<text x="0.00" y="93.00" font-size="10.30" text-anchor="middle" transform="translate(411.07,0) scale(1.020,1) translate(0.00,0)">3</text>
<text x="0.00" y="51.12" font-size="10.30" text-anchor="middle" transform="translate(411.07,0) scale(1.020,1) translate(0.00,0)">4</text>
<text x="0.00" y="9.24" font-size="10.30" text-anchor="middle" transform="translate(411.07,0) scale(1.020,1) translate(0.00,0)">5</text>
<text x="0.00" y="208.80" font-size="10.30" text-anchor="middle" transform="translate(334.13,0) scale(1.020,1) translate(0.00,0)">0</text>
<text x="0.00" y="208.80" font-size="10.30" text-anchor="middle" transform="translate(338.83,0) scale(1.020,1) translate(0.00,0)">.</text>
<text x="0.00" y="208.80" font-size="10.30" text-anchor="middle" transform="translate(343.53,0) scale(1.020,1) translate(0.00,0)">5</text>
<text x="0.00" y="208.80" font-size="10.30" text-anchor="middle" transform="translate(349.80,0) scale(1.020,1) translate(0.00,0)">0</text>
<text x="0.00" y="218.75" font-size="10.30" text-anchor="middle" transform="translate(717.53,0) scale(1.020,1) translate(0.00,0)">−</text>
<text x="0.00" y="218.75" font-size="10.30" text-anchor="middle" transform="translate(724.79,0) scale(1.020,1) translate(0.00,0)">1</text>
<text x="0.00" y="218.75" font-size="10.30" text-anchor="middle" transform="translate(731.05,0) scale(1.020,1) translate(0.00,0)">0</text>
<text x="0.00" y="218.75" font-size="10.30" text-anchor="middle" transform="translate(735.75,0) scale(1.020,1) translate(0.00,0)">.</text>
<text x="0.00" y="218.75" font-size="10.30" text-anchor="middle" transform="translate(740.45,0) scale(1.020,1) translate(0.00,0)">0</text>
<text x="0.00" y="183.68" font-size="10.30" text-anchor="middle" transform="translate(334.13,0) scale(1.020,1) translate(0.00,0)">0</text>
<text x="0.00" y="183.68" font-size="10.30" text-anchor="middle" transform="translate(338.83,0) scale(1.020,1) translate(0.00,0)">.</text>
<text x="0.00" y="183.68" font-size="10.30" text-anchor="middle" transform="translate(343.53,0) scale(1.020,1) translate(0.00,0)">7</text>
<text x="0.00" y="183.68" font-size="10.30" text-anchor="middle" transform="translate(349.80,0) scale(1.020,1) translate(0.00,0)">5</text>
<text x="0.00" y="192.55" font-size="10.30" text-anchor="middle" transform="translate(717.53,0) scale(1.020,1) translate(0.00,0)">−</text>
<text x="0.00" y="192.55" font-size="10.30" text-anchor="middle" transform="translate(724.79,0) scale(1.020,1) translate(0.00,0)">7</text>
<text x="0.00" y="192.55" font-size="10.30" text-anchor="middle" transform="translate(729.49,0) scale(1.020,1) translate(0.00,0)">.</text>
<text x="0.00" y="192.55" font-size="10.30" text-anchor="middle" transform="translate(734.19,0) scale(1.020,1) translate(0.00,0)">5</text>
<text x="0.00" y="158.56" font-size="10.30" text-anchor="middle" transform="translate(334.13,0) scale(1.020,1) translate(0.00,0)">1</text>
<text x="0.00" y="158.56" font-size="10.30" text-anchor="middle" transform="translate(338.83,0) scale(1.020,1) translate(0.00,0)">.</text>
<text x="0.00" y="158.56" font-size="10.30" text-anchor="middle" transform="translate(343.53,0) scale(1.020,1) translate(0.00,0)">0</text>
<text x="0.00" y="158.56" font-size="10.30" text-anchor="middle" transform="translate(349.80,0) scale(1.020,1) translate(0.00,0)">0</text>
<text x="0.00" y="166.34" font-size="10.30" text-anchor="middle" transform="translate(717.53,0) scale(1.020,1) translate(0.00,0)">−</text>
<text x="0.00" y="166.34" font-size="10.30" text-anchor="middle" transform="translate(724.79,0) scale(1.020,1) translate(0.00,0)">5</text>
<text x="0.00" y="166.34" font-size="10.30" text-anchor="middle" transform="translate(729.49,0) scale(1.020,1) translate(0.00,0)">.</text>
<text x="0.00" y="166.34" font-size="10.30" text-anchor="middle" transform="translate(734.19,0) scale(1.020,1) translate(0.00,0)">0</text>
<text x="0.00" y="133.44" font-size="10.30" text-anchor="middle" transform="translate(334.13,0) scale(1.020,1) translate(0.00,0)">1</text>
<text x="0.00" y="133.44" font-size="10.30" text-anchor="middle" transform="translate(338.83,0) scale(1.020,1) translate(0.00,0)">.</text>
<text x="0.00" y="133.44" font-size="10.30" text-anchor="middle" transform="translate(343.53,0) scale(1.020,1) translate(0.00,0)">2</text>
<text x="0.00" y="133.44" font-size="10.30" text-anchor="middle" transform="translate(349.80,0) scale(1.020,1) translate(0.00,0)">5</text>
<text x="0.00" y="140.14" font-size="10.30" text-anchor="middle" transform="translate(717.53,0) scale(1.020,1) translate(0.00,0)">−</text>
<text x="0.00" y="140.14" font-size="10.30" text-anchor="middle" transform="translate(724.79,0) scale(1.020,1) translate(0.00,0)">2</text>
<text x="0.00" y="140.14" font-size="10.30" text-anchor="middle" transform="translate(729.49,0) scale(1.020,1) translate(0.00,0)">.</text>
<text x="0.00" y="140.14" font-size="10.30" text-anchor="middle" transform="translate(734.19,0) scale(1.020,1) translate(0.00,0)">5</text>
<text x="0.00" y="108.32" font-size="10.30" text-anchor="middle" transform="translate(334.13,0) scale(1.020,1) translate(0.00,0)">1</text>
<text x="0.00" y="108.32" font-size="10.30" text-anchor="middle" transform="translate(338.83,0) scale(1.020,1) translate(0.00,0)">.</text>
<text x="0.00" y="108.32" font-size="10.30" text-anchor="middle" transform="translate(343.53,0) scale(1.020,1) translate(0.00,0)">5</text>
<text x="0.00" y="108.32" font-size="10.30" text-anchor="middle" transform="translate(349.80,0) scale(1.020,1) translate(0.00,0)">0</text>
<text x="0.00" y="113.94" font-size="10.30" text-anchor="middle" transform="translate(716.53,0) scale(1.020,1) translate(0.00,0)">0</text>
<text x="0.00" y="113.94" font-size="10.30" text-anchor="middle" transform="translate(721.23,0) scale(1.020,1) translate(0.00,0)">.</text>
<text x="0.00" y="113.94" font-size="10.30" text-anchor="middle" transform="translate(725.93,0) scale(1.020,1) translate(0.00,0)">0</text>
<text x="0.00" y="83.20" font-size="10.30" text-anchor="middle" transform="translate(334.13,0) scale(1.020,1) translate(0.00,0)">1</text>
<text x="0.00" y="83.20" font-size="10.30" text-anchor="middle" transform="translate(338.83,0) scale(1.020,1) translate(0.00,0)">.</text>
<text x="0.00" y="83.20" font-size="10.30" text-anchor="middle" transform="translate(343.53,0) scale(1.020,1) translate(0.00,0)">7</text>
<text x="0.00" y="83.20" font-size="10.30" text-anchor="middle" transform="translate(349.80,0) scale(1.020,1) translate(0.00,0)">5</text>
<text x="0.00" y="87.75" font-size="10.30" text-anchor="middle" transform="translate(716.53,0) scale(1.020,1) translate(0.00,0)">2</text>
<text x="0.00" y="87.75" font-size="10.30" text-anchor="middle" transform="translate(721.23,0) scale(1.020,1) translate(0.00,0)">.</text>
<text x="0.00" y="87.75" font-size="10.30" text-anchor="middle" transform="translate(725.93,0) scale(1.020,1) translate(0.00,0)">5</text>
<text x="0.00" y="58.08" font-size="10.30" text-anchor="middle" transform="translate(334.13,0) scale(1.020,1) translate(0.00,0)">2</text>
<text x="0.00" y="58.08" font-size="10.30" text-anchor="middle" transform="translate(338.83,0) scale(1.020,1) translate(0.00,0)">.</text>
<text x="0.00" y="58.08" font-size="10.30" text-anchor="middle" transform="translate(343.53,0) scale(1.020,1) translate(0.00,0)">0</text>
<text x="0.00" y="58.08" font-size="10.30" text-anchor="middle" transform="translate(349.80,0) scale(1.020,1) translate(0.00,0)">0</text>
<text x="0.00" y="61.54" font-size="10.30" text-anchor="middle" transform="translate(716.53,0) scale(1.020,1) translate(0.00,0)">5</text>
<text x="0.00" y="61.54" font-size="10.30" text-anchor="middle" transform="translate(721.23,0) scale(1.020,1) translate(0.00,0)">.</text>
<text x="0.00" y="61.54" font-size="10.30" text-anchor="middle" transform="translate(725.93,0) scale(1.020,1) translate(0.00,0)">0</text>
<text x="0.00" y="32.96" font-size="10.30" text-anchor="middle" transform="translate(334.13,0) scale(1.020,1) translate(0.00,0)">2</text>
<text x="0.00" y="32.96" font-size="10.30" text-anchor="middle" transform="translate(338.83,0) scale(1.020,1) translate(0.00,0)">.</text>
<text x="0.00" y="32.96" font-size="10.30" text-anchor="middle" transform="translate(343.53,0) scale(1.020,1) translate(0.00,0)">2</text>
<text x="0.00" y="32.96" font-size="10.30" text-anchor="middle" transform="translate(349.80,0) scale(1.020,1) translate(0.00,0)">5</text>
<text x="0.00" y="35.34" font-size="10.30" text-anchor="middle" transform="translate(716.53,0) scale(1.020,1) translate(0.00,0)">7</text>
<text x="0.00" y="35.34" font-size="10.30" text-anchor="middle" transform="translate(721.23,0) scale(1.020,1) translate(0.00,0)">.</text>
<text x="0.00" y="35.34" font-size="10.30" text-anchor="middle" transform="translate(725.93,0) scale(1.020,1) translate(0.00,0)">5</text>
<text x="0.00" y="7.85" font-size="10.30" text-anchor="middle" transform="translate(334.13,0) scale(1.020,1) translate(0.00,0)">2</text>
<text x="0.00" y="7.85" font-size="10.30" text-anchor="middle" transform="translate(338.83,0) scale(1.020,1) translate(0.00,0)">.</text>
<text x="0.00" y="7.85" font-size="10.30" text-anchor="middle" transform="translate(343.53,0) scale(1.020,1) translate(0.00,0)">5</text>
<text x="0.00" y="7.85" font-size="10.30" text-anchor="middle" transform="translate(349.80,0) scale(1.020,1) translate(0.00,0)">0</text>
<text x="0.00" y="9.14" font-size="10.30" text-anchor="middle" transform="translate(716.53,0) scale(1.020,1) translate(0.00,0)">1</text>
<text x="0.00" y="9.14" font-size="10.30" text-anchor="middle" transform="translate(722.80,0) scale(1.020,1) translate(0.00,0)">0</text>
<text x="0.00" y="9.14" font-size="10.30" text-anchor="middle" transform="translate(727.50,0) scale(1.020,1) translate(0.00,0)">.</text>
<text x="0.00" y="9.14" font-size="10.30" text-anchor="middle" transform="translate(732.20,0) scale(1.020,1) translate(0.00,0)">0</text>
</g>
<g font-family='"Liberation Sans", sans-serif' fill="#000" stroke="#000" stroke-width="0.08">
<g transform="translate(148.50,245.60)"><text x="0" y="0.00" font-size="15.48" text-anchor="middle" transform="translate(4.97,0) scale(1.000,1)">Δ</text><text x="0" y="0.00" font-size="15.48" text-anchor="middle" transform="translate(12.77,0) scale(1.120,1)" font-style="italic">t</text><text x="0" y="2.30" font-size="10.84" text-anchor="middle" transform="translate(17.60,0) scale(1.120,1)">t</text><text x="0" y="2.30" font-size="10.84" text-anchor="middle" transform="translate(21.68,0) scale(1.120,1)">r</text><text x="0" y="2.30" font-size="10.84" text-anchor="middle" transform="translate(26.98,0) scale(1.070,1)">u</text><text x="0" y="2.30" font-size="10.84" text-anchor="middle" transform="translate(33.32,0) scale(1.039,1)">e</text></g>
<g transform="translate(531.80,245.60)"><text x="0" y="0.00" font-size="15.48" text-anchor="middle" transform="translate(4.97,0) scale(1.000,1)">Δ</text><text x="0" y="0.00" font-size="15.48" text-anchor="middle" transform="translate(12.77,0) scale(1.120,1)" font-style="italic">t</text><text x="0" y="2.30" font-size="10.84" text-anchor="middle" transform="translate(17.60,0) scale(1.120,1)">t</text><text x="0" y="2.30" font-size="10.84" text-anchor="middle" transform="translate(21.68,0) scale(1.120,1)">r</text><text x="0" y="2.30" font-size="10.84" text-anchor="middle" transform="translate(26.98,0) scale(1.070,1)">u</text><text x="0" y="2.30" font-size="10.84" text-anchor="middle" transform="translate(33.32,0) scale(1.039,1)">e</text></g>
<g transform="translate(11.30,122.25) rotate(-90)"><text x="0" y="0.00" font-size="15.48" text-anchor="middle" transform="translate(4.97,0) scale(1.000,1)">Δ</text><text x="0" y="0.00" font-size="15.48" text-anchor="middle" transform="translate(12.77,0) scale(1.120,1)" font-style="italic">t</text><text x="0" y="2.30" font-size="10.84" text-anchor="middle" transform="translate(17.40,0) scale(1.120,1)">f</text><text x="0" y="2.30" font-size="10.84" text-anchor="middle" transform="translate(20.59,0) scale(1.120,1)">i</text><text x="0" y="2.30" font-size="10.84" text-anchor="middle" transform="translate(23.99,0) scale(1.120,1)">t</text></g>
<g transform="translate(369.00,135.50) rotate(-90)"><text x="0" y="0.00" font-size="15.48" text-anchor="middle" transform="translate(4.62,0) scale(1.091,1)" font-style="italic">μ</text><text x="0" y="2.30" font-size="10.84" text-anchor="middle" transform="translate(11.02,0) scale(1.120,1)">f</text><text x="0" y="2.30" font-size="10.84" text-anchor="middle" transform="translate(14.21,0) scale(1.120,1)">i</text><text x="0" y="2.30" font-size="10.84" text-anchor="middle" transform="translate(17.61,0) scale(1.120,1)">t</text><text x="0" y="0.00" font-size="15.48" text-anchor="middle" transform="translate(22.43,0) scale(1.120,1)">/</text><text x="0" y="0.00" font-size="15.48" text-anchor="middle" transform="translate(29.49,0) scale(1.091,1)" font-style="italic">μ</text><text x="0" y="2.30" font-size="10.84" text-anchor="middle" transform="translate(36.09,0) scale(1.120,1)">t</text><text x="0" y="2.30" font-size="10.84" text-anchor="middle" transform="translate(40.16,0) scale(1.120,1)">r</text><text x="0" y="2.30" font-size="10.84" text-anchor="middle" transform="translate(45.47,0) scale(1.070,1)">u</text><text x="0" y="2.30" font-size="10.84" text-anchor="middle" transform="translate(51.81,0) scale(1.039,1)">e</text></g>
<g transform="translate(401.30,136.30) rotate(-90)"><text x="0" y="0.00" font-size="15.48" text-anchor="middle" transform="translate(4.62,0) scale(1.091,1)" font-style="italic">μ</text><text x="0" y="2.30" font-size="10.84" text-anchor="middle" transform="translate(11.02,0) scale(1.120,1)">f</text><text x="0" y="2.30" font-size="10.84" text-anchor="middle" transform="translate(14.21,0) scale(1.120,1)">i</text><text x="0" y="2.30" font-size="10.84" text-anchor="middle" transform="translate(17.61,0) scale(1.120,1)">t</text><text x="0" y="0.00" font-size="15.48" text-anchor="middle" transform="translate(22.43,0) scale(1.120,1)">/</text><text x="0" y="0.00" font-size="15.48" text-anchor="middle" transform="translate(29.49,0) scale(1.091,1)" font-style="italic">μ</text><text x="0" y="2.30" font-size="10.84" text-anchor="middle" transform="translate(36.09,0) scale(1.120,1)">t</text><text x="0" y="2.30" font-size="10.84" text-anchor="middle" transform="translate(40.16,0) scale(1.120,1)">r</text><text x="0" y="2.30" font-size="10.84" text-anchor="middle" transform="translate(45.47,0) scale(1.070,1)">u</text><text x="0" y="2.30" font-size="10.84" text-anchor="middle" transform="translate(51.81,0) scale(1.039,1)">e</text></g>
<g transform="translate(757.90,150.10) rotate(-90)"><text x="0" y="0.00" font-size="15.48" text-anchor="middle" transform="translate(4.97,0) scale(1.000,1)">Δ</text><text x="0" y="0.00" font-size="15.48" text-anchor="middle" transform="translate(12.77,0) scale(1.120,1)" font-style="italic">t</text><text x="0" y="2.30" font-size="10.84" text-anchor="middle" transform="translate(17.40,0) scale(1.120,1)">f</text><text x="0" y="2.30" font-size="10.84" text-anchor="middle" transform="translate(20.59,0) scale(1.120,1)">i</text><text x="0" y="2.30" font-size="10.84" text-anchor="middle" transform="translate(23.99,0) scale(1.120,1)">t</text><text x="0" y="0.00" font-size="15.48" text-anchor="middle" transform="translate(35.28,0) scale(1.120,1)">−</text><text x="0" y="0.00" font-size="15.48" text-anchor="middle" transform="translate(49.13,0) scale(1.000,1)">Δ</text><text x="0" y="0.00" font-size="15.48" text-anchor="middle" transform="translate(56.93,0) scale(1.120,1)" font-style="italic">t</text><text x="0" y="2.30" font-size="10.84" text-anchor="middle" transform="translate(61.76,0) scale(1.120,1)">t</text><text x="0" y="2.30" font-size="10.84" text-anchor="middle" transform="translate(65.84,0) scale(1.120,1)">r</text><text x="0" y="2.30" font-size="10.84" text-anchor="middle" transform="translate(71.14,0) scale(1.070,1)">u</text><text x="0" y="2.30" font-size="10.84" text-anchor="middle" transform="translate(77.48,0) scale(1.039,1)">e</text></g>
</g>
</svg>
</body></html>
